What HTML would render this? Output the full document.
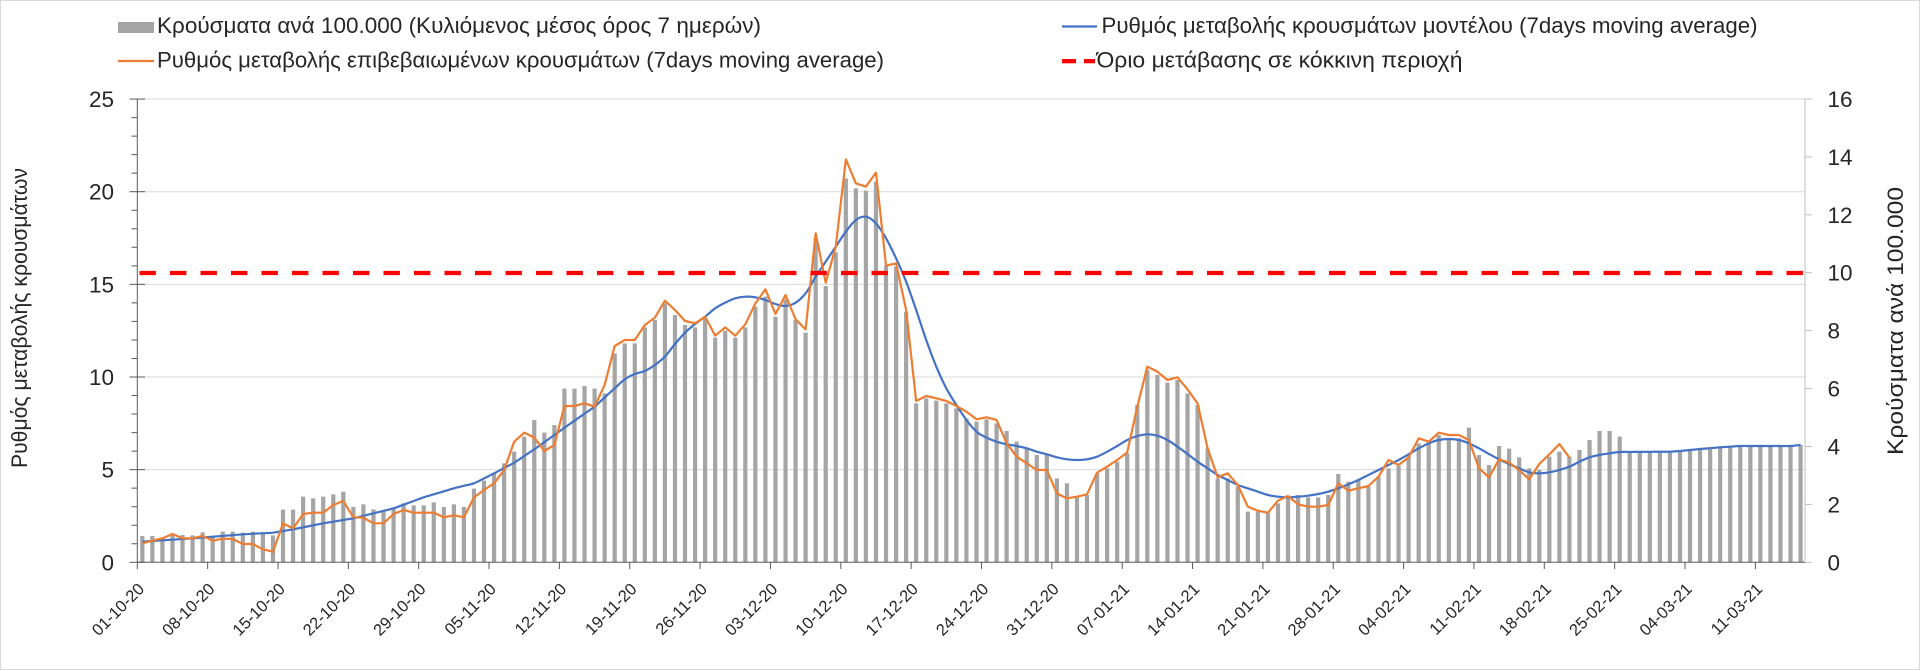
<!DOCTYPE html>
<html><head><meta charset="utf-8">
<style>
html,body{margin:0;padding:0;background:#fff;}
body{width:1920px;height:670px;overflow:hidden;}
svg{display:block;}
text{font-family:"Liberation Sans","DejaVu Sans",sans-serif;fill:#262626;}
</style></head>
<body>
<svg width="1920" height="670" viewBox="0 0 1920 670" xmlns="http://www.w3.org/2000/svg">
<rect x="0.5" y="0.5" width="1919" height="669" fill="#fff" stroke="#d9d9d9" stroke-width="1"/>

<!-- gridlines -->
<g stroke="#d9d9d9" stroke-width="1">
<line x1="137.3" x2="1805" y1="99.05" y2="99.05"/>
<line x1="137.3" x2="1805" y1="191.7" y2="191.7"/>
<line x1="137.3" x2="1805" y1="284.35" y2="284.35"/>
<line x1="137.3" x2="1805" y1="377" y2="377"/>
<line x1="137.3" x2="1805" y1="469.65" y2="469.65"/>
</g>

<!-- right axis -->
<g stroke="#bfbfbf" stroke-width="1">
<line x1="1805" x2="1805" y1="99" y2="562.3"/>
<line x1="1805" x2="1812" y1="562.3" y2="562.3"/>
<line x1="1805" x2="1812" y1="504.4" y2="504.4"/>
<line x1="1805" x2="1812" y1="446.5" y2="446.5"/>
<line x1="1805" x2="1812" y1="388.5" y2="388.5"/>
<line x1="1805" x2="1812" y1="330.6" y2="330.6"/>
<line x1="1805" x2="1812" y1="272.7" y2="272.7"/>
<line x1="1805" x2="1812" y1="214.8" y2="214.8"/>
<line x1="1805" x2="1812" y1="156.9" y2="156.9"/>
<line x1="1805" x2="1812" y1="99" y2="99"/>
</g>

<path id="bars" fill="#a5a5a5" d=""/>
<path id="blue" fill="none" stroke="#4472c4" stroke-width="2.2" stroke-linejoin="round" d=""/>
<polyline id="orange" fill="none" stroke="#ed7d31" stroke-width="2.2" stroke-linejoin="round" points=""/>
<line x1="139.5" x2="1803" y1="273" y2="273" stroke="#ff0000" stroke-width="4.3" stroke-dasharray="16.4 14.1"/>

<!-- left axis -->
<g stroke="#595959" stroke-width="1">
<line x1="137.3" x2="137.3" y1="99" y2="562.3"/>
<line x1="137.3" x2="1805" y1="562.3" y2="562.3"/>
<line x1="129.5" x2="145" y1="99.05" y2="99.05"/>
<line x1="129.5" x2="145" y1="191.7" y2="191.7"/>
<line x1="129.5" x2="145" y1="284.35" y2="284.35"/>
<line x1="129.5" x2="145" y1="377" y2="377"/>
<line x1="129.5" x2="145" y1="469.65" y2="469.65"/>
<line x1="129.5" x2="145" y1="562.3" y2="562.3"/>
<path id="minor" d=""/>
<path id="xt" d=""/>
</g>

<!-- left labels -->
<g font-size="22.5" text-anchor="end">
<text x="114" y="107">25</text>
<text x="114" y="199.7">20</text>
<text x="114" y="292.4">15</text>
<text x="114" y="385">10</text>
<text x="114" y="477.7">5</text>
<text x="114" y="570.3">0</text>
</g>
<!-- right labels -->
<g font-size="22.5" text-anchor="start">
<text x="1827.5" y="570.3">0</text>
<text x="1827.5" y="512.4">2</text>
<text x="1827.5" y="454.5">4</text>
<text x="1827.5" y="396.5">6</text>
<text x="1827.5" y="338.6">8</text>
<text x="1827.5" y="280.7">10</text>
<text x="1827.5" y="222.8">12</text>
<text x="1827.5" y="164.9">14</text>
<text x="1827.5" y="107">16</text>
</g>

<!-- axis titles -->
<text x="27" y="318" font-size="22" text-anchor="middle" textLength="300" lengthAdjust="spacingAndGlyphs" transform="rotate(-90 27 318)">Ρυθμός μεταβολής κρουσμάτων</text>
<text x="1903" y="321" font-size="22" text-anchor="middle" textLength="268" lengthAdjust="spacingAndGlyphs" transform="rotate(-90 1903 321)">Κρούσματα ανά 100.000</text>

<!-- x labels -->
<g font-size="16.5" text-anchor="end">
<text x="145.3" y="590" transform="rotate(-45 145.3 590)">01-10-20</text>
<text x="215.65" y="590" transform="rotate(-45 215.65 590)">08-10-20</text>
<text x="286" y="590" transform="rotate(-45 286 590)">15-10-20</text>
<text x="356.35" y="590" transform="rotate(-45 356.35 590)">22-10-20</text>
<text x="426.7" y="590" transform="rotate(-45 426.7 590)">29-10-20</text>
<text x="497.05" y="590" transform="rotate(-45 497.05 590)">05-11-20</text>
<text x="567.4" y="590" transform="rotate(-45 567.4 590)">12-11-20</text>
<text x="637.75" y="590" transform="rotate(-45 637.75 590)">19-11-20</text>
<text x="708.1" y="590" transform="rotate(-45 708.1 590)">26-11-20</text>
<text x="778.45" y="590" transform="rotate(-45 778.45 590)">03-12-20</text>
<text x="848.8" y="590" transform="rotate(-45 848.8 590)">10-12-20</text>
<text x="919.15" y="590" transform="rotate(-45 919.15 590)">17-12-20</text>
<text x="989.5" y="590" transform="rotate(-45 989.5 590)">24-12-20</text>
<text x="1059.85" y="590" transform="rotate(-45 1059.85 590)">31-12-20</text>
<text x="1130.2" y="590" transform="rotate(-45 1130.2 590)">07-01-21</text>
<text x="1200.55" y="590" transform="rotate(-45 1200.55 590)">14-01-21</text>
<text x="1270.9" y="590" transform="rotate(-45 1270.9 590)">21-01-21</text>
<text x="1341.25" y="590" transform="rotate(-45 1341.25 590)">28-01-21</text>
<text x="1411.6" y="590" transform="rotate(-45 1411.6 590)">04-02-21</text>
<text x="1481.95" y="590" transform="rotate(-45 1481.95 590)">11-02-21</text>
<text x="1552.3" y="590" transform="rotate(-45 1552.3 590)">18-02-21</text>
<text x="1622.65" y="590" transform="rotate(-45 1622.65 590)">25-02-21</text>
<text x="1693" y="590" transform="rotate(-45 1693 590)">04-03-21</text>
<text x="1763.35" y="590" transform="rotate(-45 1763.35 590)">11-03-21</text>
</g>

<!-- legend -->
<rect x="118" y="22" width="36" height="11" fill="#a5a5a5"/>
<text x="157" y="33" font-size="22" textLength="604" lengthAdjust="spacingAndGlyphs">Κρούσματα ανά 100.000 (Κυλιόμενος μέσος όρος 7 ημερών)</text>
<line x1="118" x2="154" y1="61" y2="61" stroke="#ed7d31" stroke-width="2.2"/>
<text x="157" y="67.5" font-size="22" textLength="727" lengthAdjust="spacingAndGlyphs">Ρυθμός μεταβολής επιβεβαιωμένων κρουσμάτων (7days moving average)</text>
<line x1="1062" x2="1097" y1="26.5" y2="26.5" stroke="#4472c4" stroke-width="2.2"/>
<text x="1101.5" y="33" font-size="22" textLength="656" lengthAdjust="spacingAndGlyphs">Ρυθμός μεταβολής κρουσμάτων μοντέλου (7days moving average)</text>
<rect x="1062" y="59" width="14" height="4.3" fill="#ff0000"/>
<rect x="1084" y="59" width="11" height="4.3" fill="#ff0000"/>
<text x="1096.5" y="67.5" font-size="22" textLength="366" lengthAdjust="spacingAndGlyphs">Όριο μετάβασης σε κόκκινη περιοχή</text>
</svg>

<script>
(function(){
var X=function(i){return 137.3+10.05*(i+0.5);};
var Y=function(z){return 90+z/3;};
var B=[1338,1338,1342,1330,1335,1336,1327,1340,1325,1325,1328,1325,1330,1336,1259,1259,1220,1225,1220,1213,1205,1251,1243,1258,1262,1253,1240,1246,1246,1237,1251,1243,1251,1196,1172,1150,1120,1085,1040,990,1028,1005,896,896,888,896,910,790,760,760,712,690,640,675,705,712,
685,743,722,743,712,650,620,680,628,690,728,445,588,487,265,295,302,275,527,530,665,940,925,932,940,955,985,995,988,1000,1023,1055,1073,1095,1095,1165,1180,1220,1215,1150,1135,1115,1090,945,840,855,878,870,910,945,1075,1165,1165,1190,1265,
1265,1268,1240,1222,1215,1222,1222,1215,1152,1175,1168,1190,1160,1135,1128,1100,1060,1060,1035,1045,1045,1013,1095,1125,1068,1076,1102,1135,1140,1100,1085,1100,1080,1050,1023,1023,1040,1088,1088,1088,1088,1088,1083,1080,1078,1075,1073,1070,1068,1068,1068,1068,1068,1070,1065];
var O=[1360,1352,1345,1332,1345,1345,1338,1352,1346,1347,1362,1362,1378,1385,1300,1315,1272,1268,1268,1245,1233,1282,1283,1300,1300,1272,1260,1268,1268,1268,1282,1276,1282,1222,1200,1180,1140,1055,1028,1043,1083,1065,948,948,940,950,885,768,750,750,705,683,632,660,693,700,
680,737,712,737,703,640,598,672,615,688,718,430,578,470,208,280,290,248,527,520,660,933,918,925,933,948,965,988,982,990,1060,1100,1120,1140,1140,1210,1225,1220,1213,1148,1130,1110,1087,950,830,845,870,862,898,940,1075,1162,1150,1185,1250,
1262,1268,1232,1218,1243,1250,1250,1245,1180,1202,1195,1188,1160,1110,1125,1102,1045,1055,1028,1035,1035,1050,1135,1162,1108,1118,1140,1168,1122,1093,1062,1103];
var K=[[0,1355],[5,1345],[10,1333],[13,1328],[15,1318],[18,1300],[21,1285],[23,1270],[25,1255],[28,1222],[31,1195],[33,1180],[35,1150],[37,1118],[39,1078],[41,1035],[43,992],[45,950],[47,895],[48,868],[49,852],[50,843],[51,825],[52,800],[53,762],[54,728],[55,702],
[56,680],[57,655],[58,638],[59,625],[60,620],[61,622],[62,630],[63,642],[64,648],[65,638],[66,610],[67,560],[68,515],[69,470],[70,425],[71,390],[72,380],[73,400],[74,445],[75,505],[76,575],[77,660],[78,750],[79,830],[80,895],[81,945],[82,990],[83,1025],[84,1043],[85,1055],[86,1063],[87,1068],[88,1075],[89,1085],[90,1093],[91,1102],[92,1108],[93,1110],[94,1108],[95,1100],[96,1085],[97,1068],[98,1050],[99,1038],[100,1033],[101,1037],[102,1050],[103,1070],[104,1092],[105,1115],[106,1135],[107,1155],[108,1170],[109,1185],[110,1195],
[111,1205],[112,1215],[113,1220],[114,1222],[115,1220],[116,1217],[117,1212],[118,1205],[119,1195],[120,1183],[121,1170],[122,1155],[123,1140],[124,1125],[125,1110],[126,1093],[127,1075],[128,1060],[129,1050],[130,1047],[131,1050],[132,1060],[133,1075],[134,1092],[135,1108],[136,1122],[137,1135],[138,1147],[139,1150],[140,1147],[141,1140],[142,1130],[143,1115],[144,1102],[145,1095],[146,1090],[147,1086],[152,1085],[153,1083],[155,1077],[157,1072],[159,1068],[164,1068],[165,1065]];
var d='';
for(var i=0;i<B.length;i++){var x=X(i)-2.1,y=Y(B[i]);d+='M'+x.toFixed(2)+',562.3V'+y.toFixed(2)+'h4.2V562.3Z';}
document.getElementById('bars').setAttribute('d',d);
var p=[];
for(var i=0;i<O.length;i++){p.push(X(i).toFixed(2)+','+Y(O[i]).toFixed(2));}
document.getElementById('orange').setAttribute('points',p.join(' '));
var bl=[];
for(var k=0;k<K.length-1;k++){var a=K[k],b=K[k+1];for(var j=a[0];j<b[0];j++){bl.push(a[1]+(b[1]-a[1])*(j-a[0])/(b[0]-a[0]));}}
bl.push(K[K.length-1][1]);
var P=bl.map(function(z,i){return [X(i),Y(z)];});
var s='M'+P[0][0].toFixed(2)+','+P[0][1].toFixed(2);
for(var i=0;i<P.length-1;i++){
 var p0=P[i>0?i-1:i],p1=P[i],p2=P[i+1],p3=P[i+2<P.length?i+2:i+1];
 var c1x=p1[0]+(p2[0]-p0[0])/6,c1y=p1[1]+(p2[1]-p0[1])/6;
 var c2x=p2[0]-(p3[0]-p1[0])/6,c2y=p2[1]-(p3[1]-p1[1])/6;
 s+='C'+c1x.toFixed(2)+','+c1y.toFixed(2)+' '+c2x.toFixed(2)+','+c2y.toFixed(2)+' '+p2[0].toFixed(2)+','+p2[1].toFixed(2);
}
document.getElementById('blue').setAttribute('d',s);
var m='';
for(var v=1;v<25;v++){if(v%5===0)continue;var y=562.3-v*18.53;m+='M131.5,'+y.toFixed(2)+'H137.3';}
document.getElementById('minor').setAttribute('d',m);
var t='';
for(var k=0;k<24;k++){var x=137.3+70.35*k;t+='M'+x.toFixed(2)+',562.3V569';}
document.getElementById('xt').setAttribute('d',t);
})();
</script>
</body></html>
